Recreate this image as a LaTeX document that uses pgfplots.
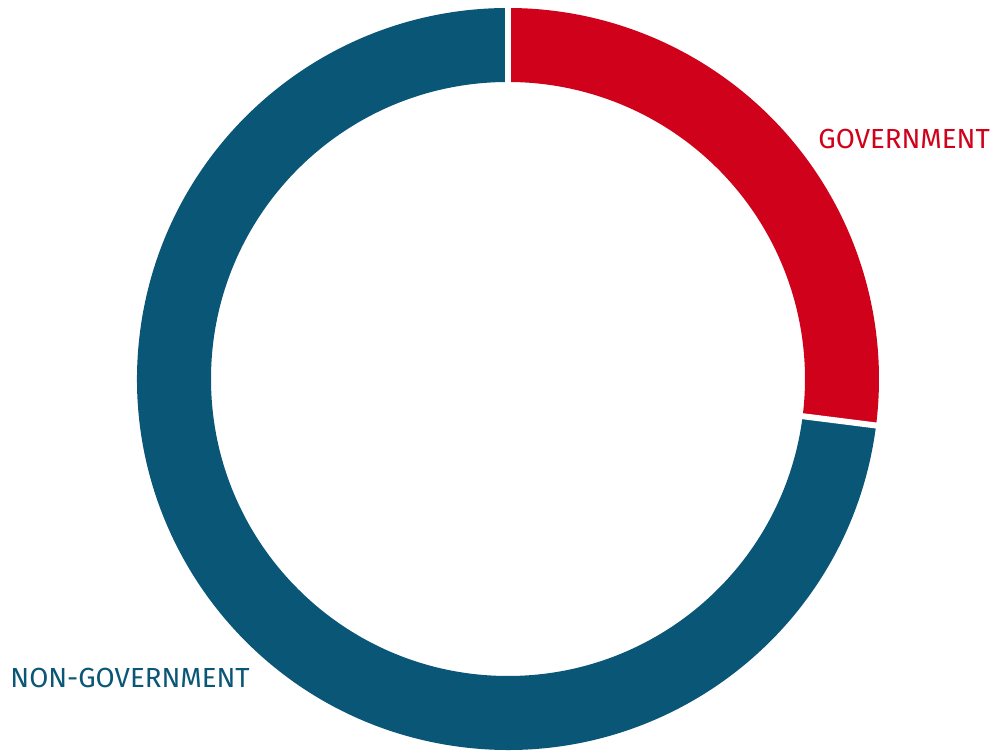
\documentclass[border=0pt]{standalone}
\usepackage{pgfplots}
\pgfplotsset{compat=1.18}
\usepackage{pgfplotstable}
\usepackage{fontspec}
\setmainfont{Fira Sans}
\definecolor{govred}{HTML}{D0021B}
\definecolor{ngblue}{HTML}{0A5677}
\pgfplotstableread{
label share
Government 27
NonGovernment 73
}\shares
\pgfplotstablegetelem{0}{share}\of\shares \let\gov\pgfplotsretval
\pgfmathsetmacro\govend{90-3.6*\gov}
\begin{document}
\begin{tikzpicture}
\begin{axis}[x=0.5pt,y=0.5pt,xmin=0,xmax=992,ymin=0,ymax=754,hide axis,clip=false]
\begin{scope}[shift={(axis cs:508,375)}]
\fill[govred] (90:185.5pt) arc[start angle=90,end angle=\govend,radius=185.5pt] -- (\govend:148.5pt) arc[start angle=\govend,end angle=90,radius=148.5pt] -- cycle;
\fill[ngblue] (\govend:185.5pt) arc[start angle=\govend,end angle=-270,radius=185.5pt] -- (-270:148.5pt) arc[start angle=-270,end angle=\govend,radius=148.5pt] -- cycle;
\draw[white,line width=3pt] (90:140pt) -- (90:195pt);
\draw[white,line width=3pt] (\govend:140pt) -- (\govend:195pt);
\end{scope}
\node[anchor=west,inner sep=0pt,text=govred,font=\fontsize{13.8}{15}\selectfont] at (axis cs:818,615) {GOVERNMENT};
\node[anchor=west,inner sep=0pt,text=ngblue,font=\fontsize{13.8}{15}\selectfont] at (axis cs:10,76) {NON-GOVERNMENT};
\end{axis}
\pgfresetboundingbox
\path[use as bounding box] (current axis.south west) rectangle (current axis.north east);
\end{tikzpicture}
\end{document}
